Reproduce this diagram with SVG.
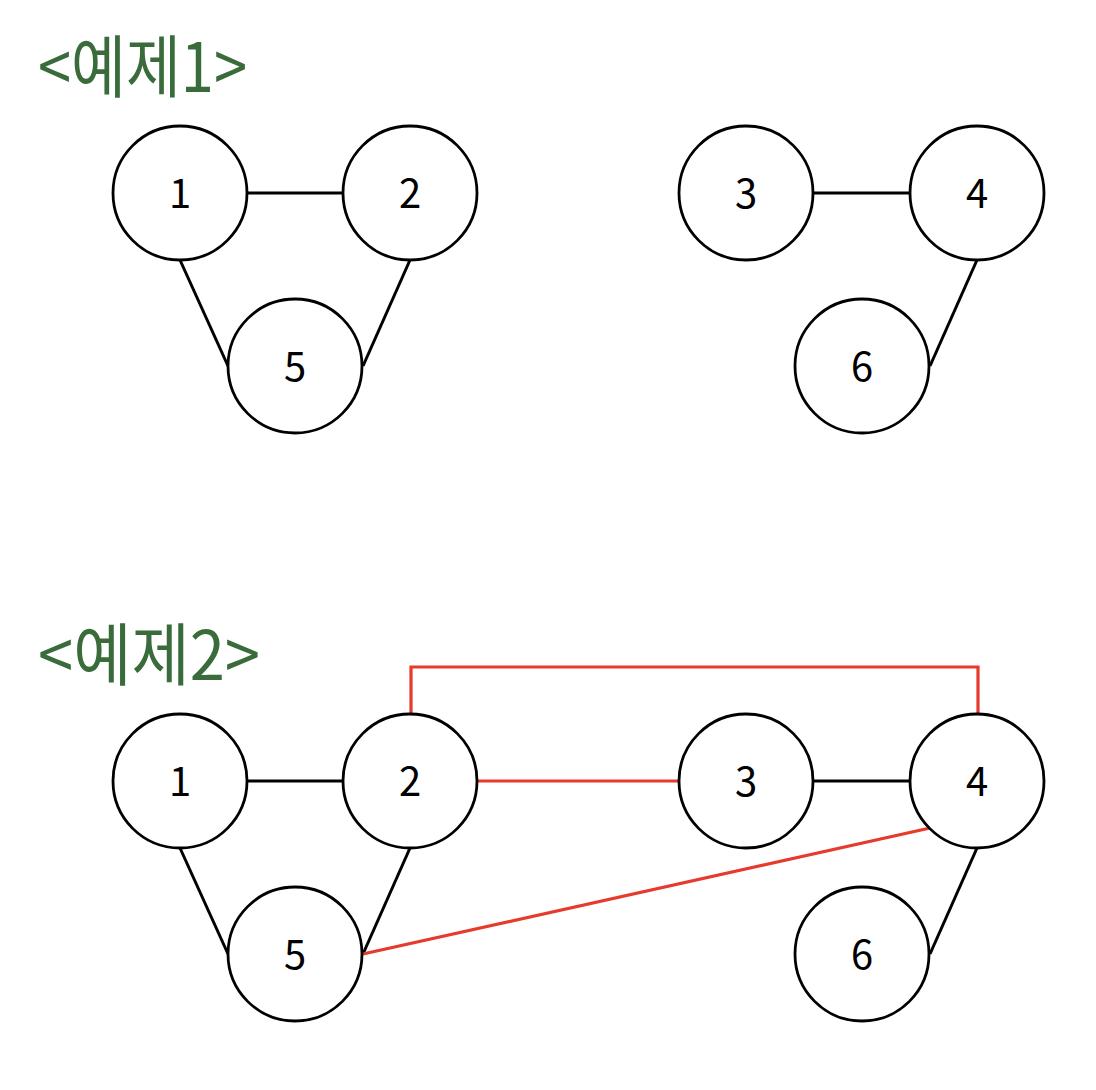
<svg xmlns="http://www.w3.org/2000/svg" width="1096" height="1090" viewBox="0 0 1096 1090">
<style>
.node circle{fill:#fff;stroke:#000;stroke-width:2.8}
.node text{font-family:"Noto Sans CJK KR","Noto Sans",sans-serif;font-size:40px;fill:#000;text-anchor:middle}
.title{font-family:"Noto Sans CJK KR",sans-serif;font-size:68px;fill:#3a6b3a}
.e{stroke:#000;stroke-width:3;fill:none}
.r{stroke:#e53a2c;stroke-width:3.2;fill:none}
</style>
<rect width="1096" height="1090" fill="#fff"/>
<text class="title" x="38" y="92" textLength="209" lengthAdjust="spacingAndGlyphs">&lt;예제1&gt;</text>
<text class="title" x="38" y="680" textLength="222" lengthAdjust="spacingAndGlyphs">&lt;예제2&gt;</text>
<g id="connectors">
<line class="e" x1="248" y1="193" x2="342" y2="193"/>
<line class="e" x1="180" y1="260" x2="228" y2="366"/>
<line class="e" x1="410" y1="260" x2="363" y2="366"/>
<line class="e" x1="814" y1="193" x2="909" y2="193"/>
<line class="e" x1="977" y1="260" x2="930" y2="366"/>
<line class="e" x1="248" y1="781" x2="342" y2="781"/>
<line class="e" x1="180" y1="848" x2="228" y2="954"/>
<line class="e" x1="410" y1="848" x2="363" y2="954"/>
<line class="e" x1="814" y1="781" x2="909" y2="781"/>
<line class="e" x1="977" y1="848" x2="930" y2="954"/>
<polyline class="r" points="411,714 411,667 978,667 978,714"/>
<line class="r" x1="478" y1="781" x2="679" y2="781"/>
<line class="r" x1="363" y1="954" x2="930" y2="828"/>
</g>
<g id="n1a" class="node"><circle cx="180" cy="193" r="67"/><text x="180" y="208">1</text></g>
<g id="n2a" class="node"><circle cx="410" cy="193" r="67"/><text x="410" y="208">2</text></g>
<g id="n5a" class="node"><circle cx="295" cy="366" r="67"/><text x="295" y="381">5</text></g>
<g id="n3a" class="node"><circle cx="746" cy="193" r="67"/><text x="746" y="208">3</text></g>
<g id="n4a" class="node"><circle cx="977" cy="193" r="67"/><text x="977" y="208">4</text></g>
<g id="n6a" class="node"><circle cx="862" cy="366" r="67"/><text x="862" y="381">6</text></g>
<g id="n1b" class="node"><circle cx="180" cy="781" r="67"/><text x="180" y="796">1</text></g>
<g id="n2b" class="node"><circle cx="410" cy="781" r="67"/><text x="410" y="796">2</text></g>
<g id="n5b" class="node"><circle cx="295" cy="954" r="67"/><text x="295" y="969">5</text></g>
<g id="n3b" class="node"><circle cx="746" cy="781" r="67"/><text x="746" y="796">3</text></g>
<g id="n4b" class="node"><circle cx="977" cy="781" r="67"/><text x="977" y="796">4</text></g>
<g id="n6b" class="node"><circle cx="862" cy="954" r="67"/><text x="862" y="969">6</text></g>
</svg>
